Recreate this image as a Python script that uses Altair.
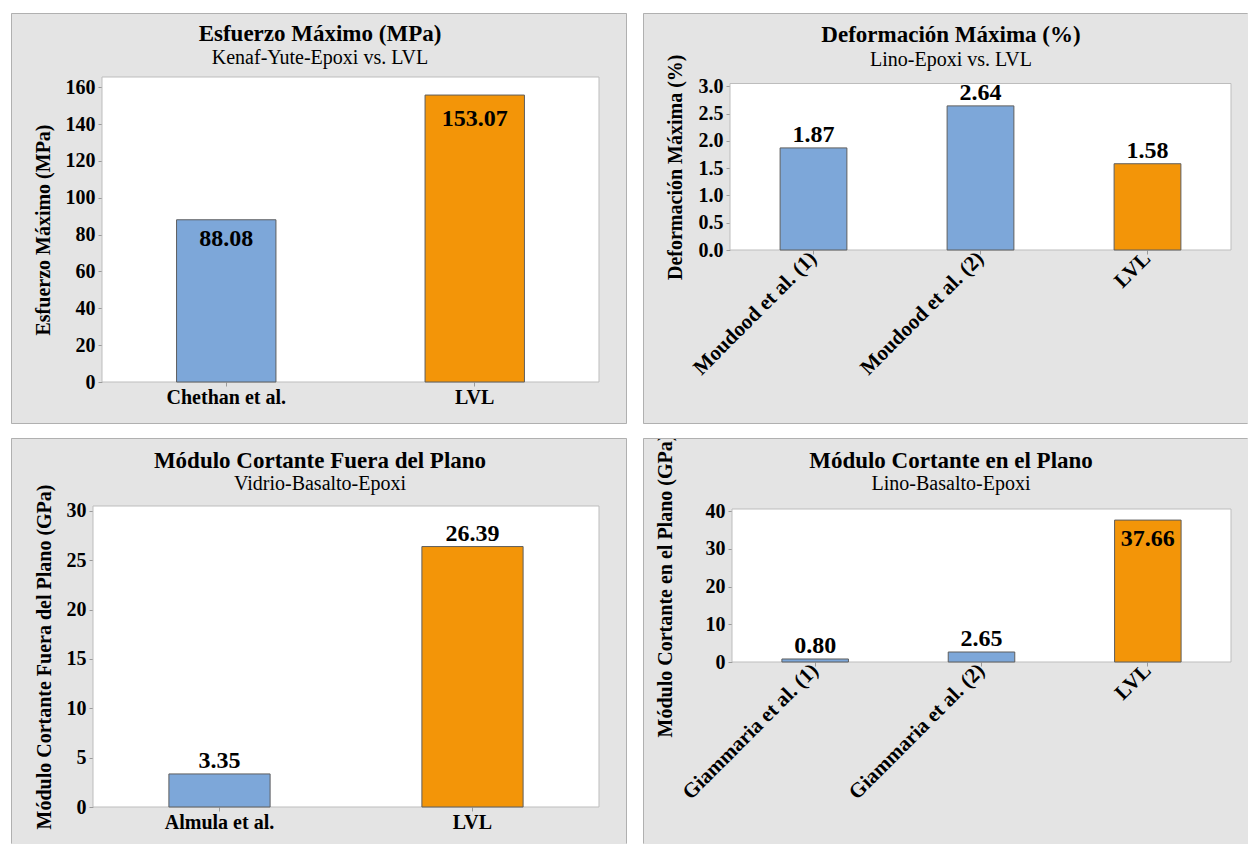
import altair as alt
import pandas as pd

FONT = "Liberation Serif"
BLUE = "#7DA7D9"
ORANGE = "#F39508"
PANEL_FILL = "#E4E4E4"
PANEL_EDGE = "#B0B0B0"
FRAME_EDGE = "#BDBDBD"
TICK = "#9A9A9A"

# ---------------- data ----------------
p1_title = "Esfuerzo Máximo (MPa)"
p1_subtitle = "Kenaf-Yute-Epoxi vs. LVL"
p1_ytitle = "Esfuerzo Máximo (MPa)"
p1_cats = ["Chethan et al.", "LVL"]
p1_bars = [88.08, 155.8]
p1_labels = [88.08, 153.07]
p1_ticks = [0, 20, 40, 60, 80, 100, 120, 140, 160]

p2_title = "Deformación Máxima (%)"
p2_subtitle = "Lino-Epoxi vs. LVL"
p2_ytitle = "Deformación Máxima (%)"
p2_cats = ["Moudood et al. (1)", "Moudood et al. (2)", "LVL"]
p2_bars = [1.87, 2.64, 1.58]
p2_labels = [1.87, 2.64, 1.58]
p2_ticks = [0.0, 0.5, 1.0, 1.5, 2.0, 2.5, 3.0]

p3_title = "Módulo Cortante Fuera del Plano"
p3_subtitle = "Vidrio-Basalto-Epoxi"
p3_ytitle = "Módulo Cortante Fuera del Plano (GPa)"
p3_cats = ["Almula et al.", "LVL"]
p3_bars = [3.35, 26.39]
p3_labels = [3.35, 26.39]
p3_ticks = [0, 5, 10, 15, 20, 25, 30]

p4_title = "Módulo Cortante en el Plano"
p4_subtitle = "Lino-Basalto-Epoxi"
p4_ytitle = "Módulo Cortante en el Plano (GPa)"
p4_cats = ["Giammaria et al. (1)", "Giammaria et al. (2)", "LVL"]
p4_bars = [0.80, 2.65, 37.66]
p4_labels = [0.80, 2.65, 37.66]
p4_ticks = [0, 10, 20, 30, 40]


def panel(cats, bars, labels, ticks, yfmt, ymax, title, subtitle, ytitle,
          plot, box, sides, title_xy, sub_y, ytitle_x, label_angle, inside,
          cover_above=0):
    # plot / box are page-pixel rectangles (x0, y0, x1, y1) of the reference layout
    px0, py0, px1, py1 = plot
    bx0, by0, bx1, by1 = box
    BW, BH = bx1 - bx0, by1 - by0
    rx0, ry0, rx1, ry1 = px0 - bx0, py0 - by0, px1 - bx0, py1 - by0
    one = pd.DataFrame({"k": [0]})
    layers = []

    def vrule(xr):
        return alt.Chart(one).mark_rule(color=PANEL_EDGE, strokeWidth=1).encode(
            x=alt.value(xr), y=alt.value(0.5), y2=alt.value(BH - 0.5))

    def hrule(yr):
        return alt.Chart(one).mark_rule(color=PANEL_EDGE, strokeWidth=1).encode(
            y=alt.value(yr), x=alt.value(0.5), x2=alt.value(BW - 0.5))

    if "L" in sides:
        layers.append(vrule(0.5))
    if "R" in sides:
        layers.append(vrule(BW - 0.5))
    if "T" in sides:
        layers.append(hrule(0.5))
    if "B" in sides:
        layers.append(hrule(BH - 0.5))

    layers.append(alt.Chart(one).mark_rect(fill="white", stroke=FRAME_EDGE, strokeWidth=1).encode(
        x=alt.value(rx0), x2=alt.value(rx1), y=alt.value(ry0), y2=alt.value(ry1)))

    angled = label_angle != 0
    x_axis_kw = dict(title=None, domain=False, grid=False, tickColor=TICK, tickSize=4,
                     labelFont=FONT, labelFontSize=21 if angled else 20,
                     labelFontWeight="bold", labelColor="black", labelAngle=label_angle,
                     labelPadding=1, labelLimit=400, offset=ry1 - BH, zindex=0)
    if angled:
        x_axis_kw.update(labelAlign="right", labelBaseline="middle")
    x_axis = alt.Axis(**x_axis_kw)
    y_axis = alt.Axis(values=ticks, format=yfmt, title=ytitle, grid=False, domain=False,
                      tickColor=TICK, tickSize=4, labelFont=FONT, labelFontSize=20,
                      labelFontWeight="bold", labelColor="black", labelPadding=3,
                      titleFont=FONT, titleFontSize=20, titleFontWeight="bold",
                      titleColor="black", titleX=ytitle_x - px0, titleY=(ry0 + ry1) / 2,
                      titleAngle=270, titleBaseline="middle", titleAlign="center",
                      titleLimit=600, offset=-rx0, zindex=0)
    X = alt.X("cat:N", sort=cats,
              scale=alt.Scale(paddingInner=0.6, paddingOuter=0.3, range=[rx0, rx1]),
              axis=x_axis)
    Y = alt.Y("val:Q", scale=alt.Scale(domain=[0, ymax], nice=False, zero=True,
                                       range=[ry1, ry0]), axis=y_axis)

    bar_df = pd.DataFrame({"cat": cats, "val": bars,
                           "grp": ["LVL" if c == "LVL" else "Ref" for c in cats]})
    layers.append(alt.Chart(bar_df).mark_bar(stroke="#5E5E5E", strokeWidth=1).encode(
        x=X, y=Y,
        color=alt.Color("grp:N", scale=alt.Scale(domain=["Ref", "LVL"], range=[BLUE, ORANGE]),
                        legend=None)))

    lab_df = pd.DataFrame({"cat": cats, "val": labels,
                           "pos": ["in" if c in inside else "out" for c in cats]})
    for pos, dy in (("in", 19), ("out", -13)):
        layers.append(alt.Chart(lab_df).transform_filter(alt.datum.pos == pos).mark_text(
            font=FONT, fontSize=24, fontWeight="bold", color="black",
            baseline="middle", align="center", dy=dy).encode(
            x=X, y=Y, text=alt.Text("val:Q", format=".2f")))

    tx, ty = title_xy
    layers.append(alt.Chart(one).mark_text(
        text=title, font=FONT, fontSize=23, fontWeight="bold", color="black",
        baseline="middle", align="center").encode(
        x=alt.value(tx - bx0), y=alt.value(ty - by0)))
    layers.append(alt.Chart(one).mark_text(
        text=subtitle, font=FONT, fontSize=20, color="black",
        baseline="middle", align="center").encode(
        x=alt.value(tx - bx0), y=alt.value(sub_y - by0)))

    if cover_above:
        # white gap above the panel hides whatever spills out of the panel's top edge
        layers.append(alt.Chart(one).mark_rect(fill="white").encode(
            x=alt.value(0), x2=alt.value(BW), y=alt.value(-cover_above), y2=alt.value(0)))

    return alt.layer(*layers).properties(
        width=BW, height=BH,
        view=alt.ViewBackground(fill=PANEL_FILL, strokeWidth=0),
    )


p1 = panel(p1_cats, p1_bars, p1_labels, p1_ticks, "d", 165.6, p1_title, p1_subtitle, p1_ytitle,
           plot=(102, 77, 599, 382), box=(11, 13, 627, 424), sides="LTRB",
           title_xy=(320, 34), sub_y=58, ytitle_x=43, label_angle=0,
           inside={"Chethan et al.", "LVL"})
p2 = panel(p2_cats, p2_bars, p2_labels, p2_ticks, ".1f", 3.05, p2_title, p2_subtitle, p2_ytitle,
           plot=(730, 83.5, 1231, 250), box=(643, 13, 1248, 424), sides="LTB",
           title_xy=(951, 35), sub_y=60, ytitle_x=675, label_angle=315,
           inside=set())
p3 = panel(p3_cats, p3_bars, p3_labels, p3_ticks, "d", 30.5, p3_title, p3_subtitle, p3_ytitle,
           plot=(93, 506, 599, 807), box=(11, 438, 627, 844), sides="LTR",
           title_xy=(320, 461), sub_y=484, ytitle_x=44, label_angle=0,
           inside=set())
p4 = panel(p4_cats, p4_bars, p4_labels, p4_ticks, "d", 40.6, p4_title, p4_subtitle, p4_ytitle,
           plot=(732, 509, 1231, 662), box=(643, 438, 1248, 844), sides="LT",
           title_xy=(951, 461), sub_y=484, ytitle_x=665, label_angle=315,
           inside={"LVL"}, cover_above=14)

chart = alt.concat(p1, p2, p3, p4, columns=2, spacing={"row": 14, "column": 16},
                   bounds="flush").properties(
    padding={"left": 11, "top": 13, "right": 0, "bottom": 0},
    background="white",
).configure_view(strokeWidth=0)

chart.save("out.html", embed_options={"renderer": "svg", "actions": False})
